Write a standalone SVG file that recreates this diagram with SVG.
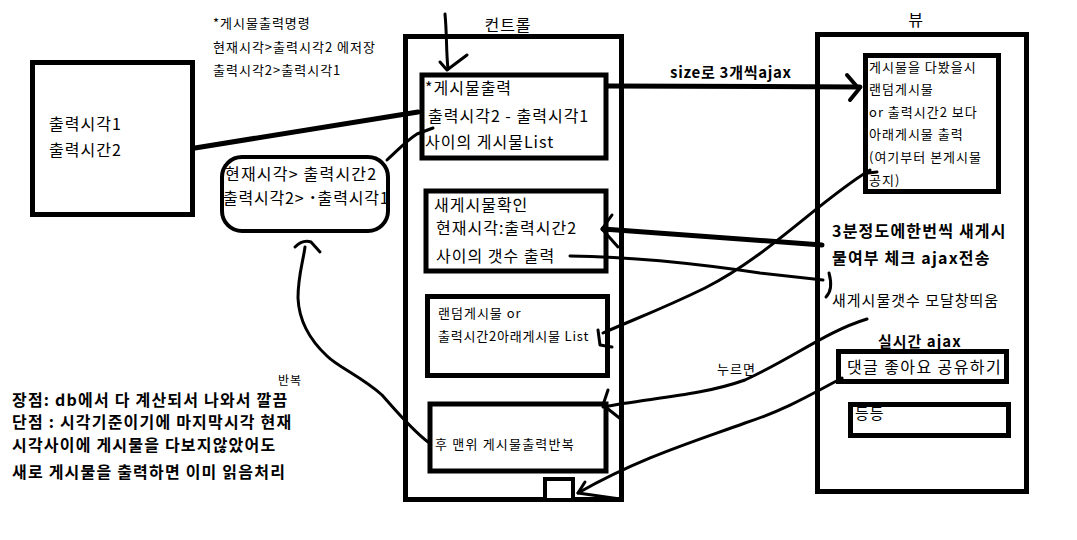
<svg xmlns="http://www.w3.org/2000/svg" width="1077" height="540" viewBox="0 0 1077 540">
<style>
text{font-family:"Noto Sans CJK KR","Liberation Sans",sans-serif;fill:#000;letter-spacing:1px}
.t16{font-size:16px}
.t15{font-size:15px}
.t14{font-size:14px}
.t13{font-size:13px}
.t12{font-size:12px}
.b{font-weight:bold}
.box{fill:#fff;stroke:#000;stroke-width:5}
.box4{fill:#fff;stroke:#000;stroke-width:4}
.ln{fill:none;stroke:#000;stroke-linecap:round;stroke-linejoin:round}
.w5{stroke-width:5}
.w4{stroke-width:4}
.w3{stroke-width:3}
</style>
<rect width="1077" height="540" fill="#fff"/>

<g id="note-top">
<text class="t13" x="213" y="28">*게시물출력명령</text>
<text class="t13" x="213" y="52">현재시각&gt;출력시각2 에저장</text>
<text class="t13" x="213" y="75">출력시각2&gt;출력시각1</text>
</g>

<g id="time-box">
<rect class="box" x="32.5" y="62.5" width="160" height="152"/>
<text class="t16" x="49" y="130">출력시각1</text>
<text class="t16" x="49" y="156">출력시간2</text>
</g>

<g id="round-box">
<rect class="box4" x="222" y="157" width="166" height="74" rx="20"/>
<text class="t16" x="225" y="180" style="letter-spacing:1.2px">현재시각&gt; 출력시간2</text>
<text class="t16" x="223" y="204" style="letter-spacing:0.8px">출력시각2&gt; ˙출력시각1</text>
</g>

<g id="controller">
<rect class="box" x="405.5" y="36.5" width="216" height="463"/>
<text class="t16" x="508" y="31" text-anchor="middle">컨트롤</text>
</g>

<g id="ctrl-print">
<rect class="box" x="422" y="75" width="184" height="83"/>
<text class="t16" x="425" y="94">*게시물출력</text>
<text class="t16" x="428" y="122">출력시각2 - 출력시각1</text>
<text class="t16" x="425" y="148">사이의 게시물List</text>
</g>

<g id="ctrl-check">
<rect class="box" x="426" y="191" width="180" height="80"/>
<text class="t16" x="434" y="211">새게시물확인</text>
<text class="t16" x="436" y="234">현재시각:출력시간2</text>
<text class="t16" x="436" y="262">사이의 갯수 출력</text>
</g>

<g id="ctrl-random">
<rect class="box" x="427.5" y="296.5" width="180" height="79"/>
<text class="t13" x="438" y="318">랜덤게시물 or</text>
<text class="t13" x="438" y="341" style="letter-spacing:0.8px">출력시간2아래게시물 List</text>
</g>

<g id="ctrl-repeat">
<rect class="box" x="430" y="404" width="176" height="67"/>
<text class="t13" x="435" y="449" style="letter-spacing:1.2px">후 맨위 게시물출력반복</text>
</g>

<g id="ctrl-small">
<rect class="box4" x="545" y="479" width="28" height="21"/>
</g>

<g id="view">
<rect class="box" x="817.5" y="34.5" width="209" height="457"/>
<text class="t16" x="916" y="26" text-anchor="middle">뷰</text>
</g>

<g id="view-list">
<rect class="box" x="865.5" y="55.5" width="133" height="136"/>
<text class="t13" x="869" y="72">게시물을 다봤을시</text>
<text class="t13" x="869" y="94">랜덤게시물</text>
<text class="t13" x="869" y="117">or 출력시간2 보다</text>
<text class="t13" x="869" y="139">아래게시물 출력</text>
<text class="t13" x="869" y="162">(여기부터 본게시물</text>
<text class="t13" x="869" y="185">공지)</text>
</g>

<g id="view-check">
<text class="t16 b" x="832" y="237" style="letter-spacing:1.2px">3분정도에한번씩 새게시</text>
<text class="t16 b" x="832" y="264" style="letter-spacing:1.2px">물여부 체크 ajax전송</text>
</g>

<g id="view-modal">
<text class="t15" x="832" y="306">새게시물갯수 모달창띄움</text>
</g>

<g id="view-realtime">
<text class="t15 b" x="878" y="347">실시간 ajax</text>
<rect class="box" x="838.5" y="351.5" width="168" height="30"/>
<text class="t16" x="847" y="373" style="letter-spacing:1.4px">댓글 좋아요 공유하기</text>
</g>

<g id="view-etc">
<rect class="box" x="850.5" y="404.5" width="158" height="31"/>
<text class="t15" x="855" y="419">등등</text>
</g>

<g id="notes-bottom" style="letter-spacing:1.2px">
<text class="t16 b" x="12" y="406" style="letter-spacing:1.2px">장점: db에서 다 계산되서 나와서 깔끔</text>
<text class="t16 b" x="12" y="428" style="letter-spacing:1.2px">단점 : 시각기준이기에 마지막시각 현재</text>
<text class="t16 b" x="12" y="451" style="letter-spacing:1.2px">시각사이에 게시물을 다보지않았어도</text>
<text class="t16 b" x="12" y="478" style="letter-spacing:1.2px">새로 게시물을 출력하면 이미 읽음처리</text>
</g>

<g id="connectors">
<path class="ln w5" d="M195,148 L418,112"/>
<path class="ln w3" d="M387,160 C398,150 406,141 417,134 L433,128"/>
<path class="ln w3" d="M445,14 C447,35 446,50 448,69"/>
<path class="ln w3" d="M440,62 L447,70 L467,55"/>
<path class="ln w5" d="M608,86 L860,87"/>
<path class="ln w4" d="M847,75 L859,89 L850,100"/>
<text class="t15 b" x="670" y="78" style="letter-spacing:0.7px">size로 3개씩ajax</text>
<path class="ln w5" d="M822,245 L603,229"/>
<path class="ln w3" d="M612,215 L602,229 L618,247"/>
<path class="ln w3" d="M570,256 C640,257 700,264 760,273 L823,280"/>
<path class="ln w3" d="M829,273 C832,284 831,292 826,297"/>
<path class="ln w3" d="M868,173 L877,172 M870,170 C820,200 770,255 705,288 C660,310 632,320 603,333"/>
<path class="ln w3" d="M598,330 L600,345 L612,347"/>
<path class="ln w3" d="M867,319 C825,332 795,357 745,380 C700,396 650,398 603,407"/>
<path class="ln w3" d="M608,390 L603,405 L622,420"/>
<text class="t13" x="717" y="374">누르면</text>
<path class="ln w3" d="M842,378 C810,395 785,410 745,423 C690,443 640,458 578,493"/>
<path class="ln w3" d="M585,482 L578,493 L620,499"/>
<path class="ln w3" d="M428,442 C412,430 397,412 382,395 C362,377 338,367 327,356 C312,342 299,322 298,298 C298,276 303,262 305,247"/>
<path class="ln w3" d="M295,247 C300,242 305,240 311,242 L320,252"/>
<text class="t12" x="278" y="385">반복</text>
</g>
</svg>
